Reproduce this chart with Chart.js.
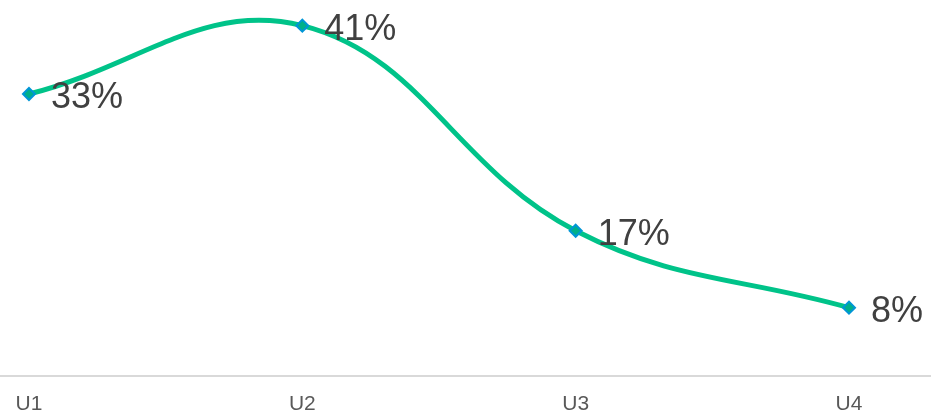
<!DOCTYPE html>
<html>
<head>
<meta charset="utf-8">
<script src="https://cdn.jsdelivr.net/npm/chart.js@4/dist/chart.umd.min.js"></script>
<style>
  html, body { margin: 0; padding: 0; background: #ffffff; }
  #wrap { width: 931px; height: 415px; position: relative; }
</style>
</head>
<body>
<div id="wrap"><canvas id="chart"></canvas></div>
<script>
// Chart data
const categories = ['U1', 'U2', 'U3', 'U4'];
const shares = [33, 41, 17, 8];

// Draw "NN%" next to each point
const valueLabels = {
    id: 'valueLabels',
    afterDatasetsDraw(chart) {
        const ctx = chart.ctx;
        const meta = chart.getDatasetMeta(0);
        ctx.save();
        ctx.font = '36px "Liberation Sans", Arial, sans-serif';
        ctx.fillStyle = '#404040';
        ctx.textAlign = 'left';
        ctx.textBaseline = 'middle';
        meta.data.forEach((pt, i) => {
            ctx.fillText(shares[i] + '%', pt.x + 22, pt.y + 4);
        });
        ctx.restore();
    }
};

const ctx = document.getElementById('chart').getContext('2d');

new Chart(ctx, {
    type: 'line',
    data: {
        datasets: [{
            data: shares.map((v, i) => ({ x: i, y: v })),
            borderColor: '#00C389',
            borderWidth: 5,
            tension: 0.4,
            fill: false,
            pointStyle: 'rectRot',
            pointRadius: 6,
            pointBackgroundColor: '#00B08A',
            pointBorderColor: '#0096D6',
            pointBorderWidth: 2
        }]
    },
    options: {
        responsive: true,
        maintainAspectRatio: false,
        animation: false,
        layout: { autoPadding: false, padding: 0 },
        scales: {
            x: {
                type: 'linear',
                min: -0.106,
                max: 3.3,
                afterBuildTicks: (axis) => {
                    axis.ticks = categories.map((c, i) => ({ value: i }));
                },
                afterFit: (axis) => {
                    axis.paddingLeft = 0;
                    axis.paddingRight = 0;
                    axis.height = 39;
                },
                ticks: {
                    autoSkip: false,
                    maxRotation: 0,
                    padding: 18,
                    color: '#595959',
                    font: { size: 21, lineHeight: 1, family: '"Liberation Sans", Arial, sans-serif' },
                    callback: (v) => categories[v] ?? ''
                },
                grid: { display: false, drawTicks: false },
                border: { display: true, color: '#d9d9d9', width: 2 }
            },
            y: {
                display: false,
                min: 0,
                max: 44
            }
        },
        plugins: {
            legend: { display: false },
            tooltip: { enabled: false }
        }
    },
    plugins: [valueLabels]
});
</script>
</body>
</html>
